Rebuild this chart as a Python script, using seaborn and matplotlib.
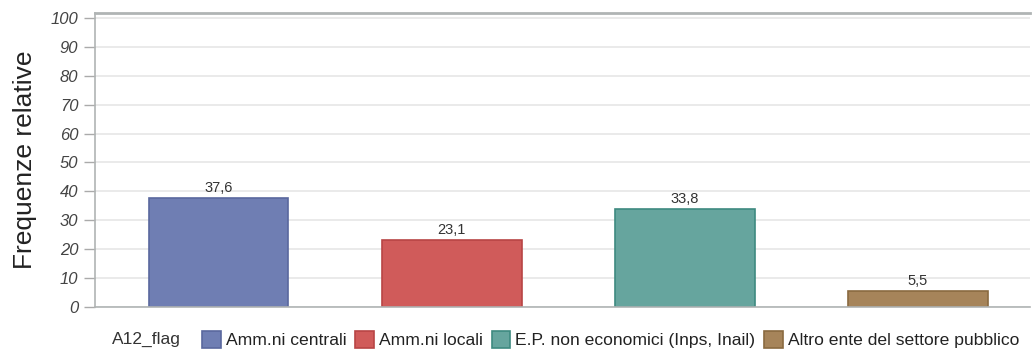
import matplotlib
matplotlib.use("Agg")
import matplotlib.pyplot as plt
import seaborn as sns
import pandas as pd
from matplotlib.patches import Patch

categories = ["Amm.ni centrali", "Amm.ni locali", "E.P. non economici (Inps, Inail)", "Altro ente del settore pubblico"]
values = [37.6, 23.1, 33.8, 5.5]
labels = ["37,6", "23,1", "33,8", "5,5"]
colors = ["#6F7EB3", "#D05B5A", "#66A59E", "#A6845A"]
edges = ["#5A689E", "#B84545", "#3E8A80", "#8A6A40"]
yticks = [0, 10, 20, 30, 40, 50, 60, 70, 80, 90, 100]

sns.set_theme(style="white")
plt.rcParams['font.family'] = ['Liberation Sans', 'DejaVu Sans']

df = pd.DataFrame({"cat": categories, "val": values})
fig = plt.figure(figsize=(10.34, 3.6), dpi=100)
ax = fig.add_axes([0.0919, 0.147, 0.904, 0.817])
sns.barplot(data=df, x="cat", y="val", hue="cat", palette=colors, order=categories,
            hue_order=categories, width=0.6, dodge=False, legend=False, saturation=1, ax=ax)
for p, ec in zip(ax.patches, edges):
    p.set_edgecolor(ec)
    p.set_linewidth(1.2)
for i, (v, l) in enumerate(zip(values, labels)):
    ax.text(i, v + 1.0, l, ha="center", va="bottom", fontsize=10.5, color="#333333")

ax.set_ylim(0, 101.7)
ax.set_xlim(-0.53, 3.48)
ax.set_yticks(yticks)
ax.set_yticklabels([str(t) for t in yticks], fontstyle="italic", fontsize=12, color="#444444")
ax.set_xticks([])
ax.set_xlabel("")
ax.set_ylabel("Frequenze relative", fontsize=19, color="#222222", labelpad=10)
ax.yaxis.grid(True, color="#E6E6E6", linewidth=1.2)
ax.set_axisbelow(True)
ax.tick_params(axis="y", which="both", left=True, length=8, width=1, color="#AAAAAA", pad=4)
for s in ["left", "bottom", "top"]:
    ax.spines[s].set_color("#B0B4B4")
    ax.spines[s].set_linewidth(1.2)
ax.spines["right"].set_visible(False)
ax.spines["top"].set_linewidth(2)

handles = [Patch(facecolor=c, edgecolor=e, linewidth=1.2) for c, e in zip(colors, edges)]
fig.text(0.108, 0.056, "A12_flag", fontsize=12.5, color="#333333", va="center", ha="left")
fig.legend(handles, categories, loc="center left", bbox_to_anchor=(0.189, 0.056), ncol=4,
           frameon=False, fontsize=12.6, handlelength=1.05, handleheight=1.05, handletextpad=0.3,
           columnspacing=0.5, borderaxespad=0, labelcolor="#222222")

fig.savefig("out.png", dpi=100)
